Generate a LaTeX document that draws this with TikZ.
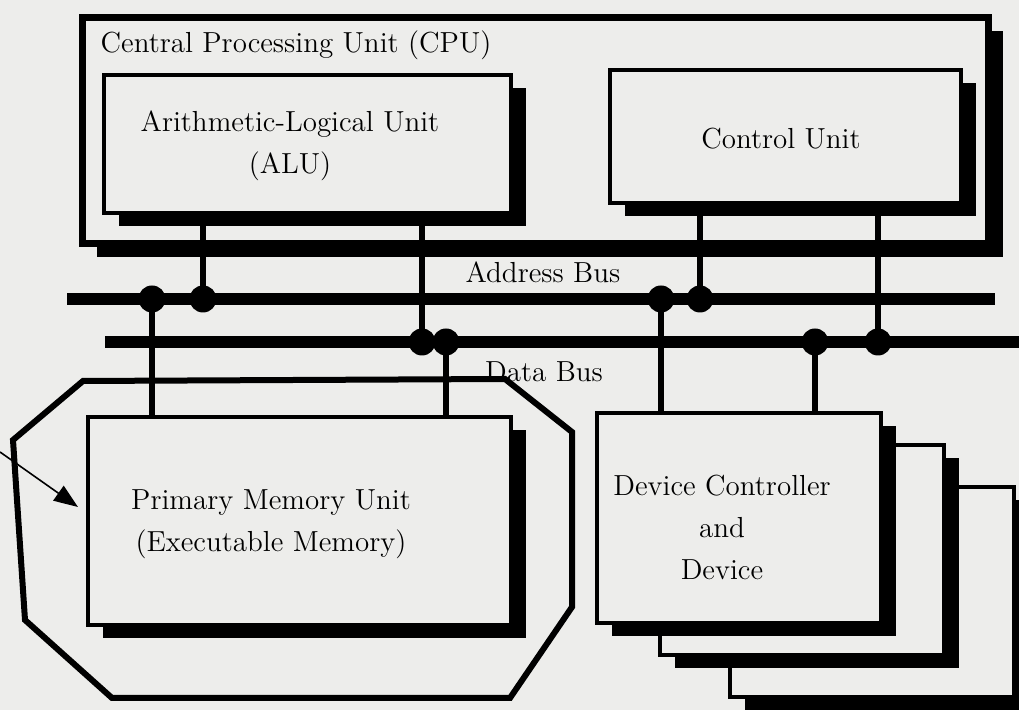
\documentclass[tikz,border=0pt]{standalone}
\usepackage{xcolor}
\definecolor{paper}{RGB}{237,237,235}
\usetikzlibrary{shadows,arrows.meta}

\begin{document}
\begin{tikzpicture}[x=0.5pt, y=-0.5pt,
  unitbox/.style={draw=black, line width=2pt, fill=paper, inner sep=0pt,
    drop shadow={opacity=1, fill=black, shadow xshift=7.5pt, shadow yshift=-6.5pt}},
  devbox/.style={unitbox, minimum width=142pt, minimum height=105pt},
  bus/.style={line width=6.4pt},
  leg/.style={line width=3.2pt},
  tap/.style={circle, fill=black, inner sep=0pt, minimum size=13.5pt},
  lbl/.style={font=\fontsize{14.5}{21}\selectfont, align=center, inner sep=0pt}]

\useasboundingbox (0,0) rectangle (1019,710);
\fill[paper] (0,0) rectangle (1019,710);
\clip (0,0) rectangle (1019,710);

% CPU and its units
\node[unitbox, line width=3.5pt, minimum width=453pt, minimum height=113pt] (cpu) at (535,131) {};
\node[unitbox, minimum width=203.5pt, minimum height=69pt] (alu) at (307.5,144) {};
\node[unitbox, minimum width=175.5pt, minimum height=66.5pt] (ctl) at (785.5,136.5) {};

% Bus taps
\coordinate (abL) at (67,299);
\coordinate (abR) at (995,299);
\coordinate (dbL) at (105,342);
\coordinate (dbR) at (1030,342);
\node[tap] (m1) at (152,299) {};
\node[tap] (a1) at (203,299) {};
\node[tap] (d1) at (661,299) {};
\node[tap] (c1) at (700,299) {};
\node[tap] (a2) at (422,342) {};
\node[tap] (m2) at (446,342) {};
\node[tap] (d2) at (815,342) {};
\node[tap] (c2) at (878,342) {};

% Legs up to the CPU
\draw[leg] (a1.center) -- (a1 |- alu.south);
\draw[leg] (a2.center) -- (a2 |- alu.south);
\draw[leg] (c1.center) -- (c1 |- ctl.south);
\draw[leg] (c2.center) -- (c2 |- ctl.south);

% Buses
\draw[bus] (abL) -- (abR);
\draw[bus] (dbL) -- (dbR);
\node[lbl] (abus) at (543,272) {Address Bus};
\node[lbl] (dbus) at (544,372) {Data Bus};

% Device stack
\node[devbox] (dev3) at (871.5,592.5) {};
\node[devbox] (dev2) at (801.5,550.5) {};
\node[devbox] (dev1) at (739,518.5) {};

% Memory
\node[unitbox, minimum width=211.5pt, minimum height=104pt] (mem) at (299.5,521) {};

% Legs down from the buses
\draw[leg] (m1.center) -- (m1 |- mem.north);
\draw[leg] (m2.center) -- (m2 |- mem.north);
\draw[leg] (d1.center) -- (d1 |- dev1.north);
\draw[leg] (d2.center) -- (d2 |- dev1.north);

% Hand-drawn outline and pointer
\draw[line width=3pt] (83,381) -- (505,379) -- (572,432) -- (572,607) -- (510,698)
  -- (112,698) -- (25,620) -- (13,440) -- cycle;
\coordinate (ptr) at (0,452);
\draw[line width=0.8pt, -{Triangle[length=12pt,width=9pt]}] (ptr) -- ([xshift=-4pt,yshift=7pt]mem.west);

% Labels
\node[lbl] (cputxt) at (296,45) {Central Processing Unit (CPU)};
\node[lbl] (alutxt) at (290,146) {Arithmetic-Logical Unit\\(ALU)};
\node[lbl] (ctltxt) at (781,139) {Control Unit};
\node[lbl] (memtxt) at (271,524) {Primary Memory Unit\\(Executable Memory)};
\node[lbl] (devtxt) at (722,527) {Device Controller\\and\\Device};
\end{tikzpicture}
\end{document}
